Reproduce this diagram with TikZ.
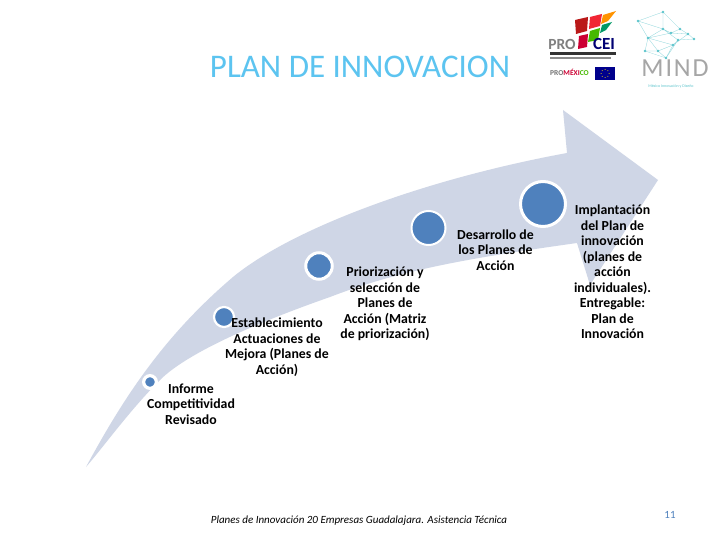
\documentclass[tikz,border=0pt]{standalone}
\usepackage{fontspec}
\setmainfont{Carlito}
\definecolor{arrowc}{HTML}{CFD6E6}
\definecolor{dotc}{HTML}{4F81BD}
\definecolor{titlec}{HTML}{5CC4F0}
\definecolor{mindc}{HTML}{5CC4CC}
\tikzset{
  stage/.style={circle,fill=dotc,draw=white,inner sep=0pt},
  lab/.style={align=center,font=\fontsize{13.8pt}{15.5pt}\selectfont\bfseries,text=black,inner sep=0pt},
  mdot/.style={circle,fill=mindc,inner sep=0pt,minimum size=2.6pt},
  mline/.style={mindc!70,line width=0.3pt}
}
\begin{document}
\begin{tikzpicture}[x=1pt,y=-1pt]
\useasboundingbox (0,0) rectangle (720,540);
\fill[white] (0,0) rectangle (720,540);
% arrow
\fill[arrowc] (86,467) .. controls (125,395) and (165,335) .. (233,277)
  .. controls (290,230) and (420,180) .. (567,153)
  -- (563,110) -- (658,180) -- (590,285) -- (577,243)
  .. controls (470,258) and (400,270) .. (330,297)
  .. controls (270,318) and (190,350) .. (160,380)
  .. controls (130,410) and (105,445) .. (86,467) -- cycle;
% stages
\node[stage,minimum size=12.7pt,line width=3.2pt] (s1) at (150,382) {};
\node[stage,minimum size=20pt,line width=2.2pt] (s2) at (224,317) {};
\node[stage,minimum size=26.5pt,line width=3pt] (s3) at (319,266) {};
\node[stage,minimum size=34pt,line width=2pt] (s4) at (428.5,228) {};
\node[stage,minimum size=45pt,line width=3pt] (s5) at (543,204) {};
% labels
\node[lab] (l1) at (191,404) {Informe\\Competitividad\\Revisado};
\node[lab] (l2) at (277,347) {Establecimiento\\Actuaciones de\\Mejora (Planes de\\Acción)};
\node[lab] (l3) at (385,304) {Priorización y\\selección de\\Planes de\\Acción (Matriz\\de priorización)};
\node[lab] (l4) at (495.5,250) {Desarrollo de\\los Planes de\\Acción};
\node[lab] (l5) at (612.5,272) {Implantación\\del Plan de\\innovación\\(planes de\\acción\\individuales).\\Entregable:\\Plan de\\Innovación};
% title and footer
\node[font=\fontsize{33pt}{35pt}\selectfont,text=titlec,inner sep=0pt] (title) at (360,67) {PLAN DE INNOVACION};
\node[font=\fontsize{11pt}{12pt}\selectfont\itshape,inner sep=0pt] (foot) at (359,521) {Planes de Innovación 20 Empresas Guadalajara. Asistencia Técnica};
\node[font=\fontsize{11pt}{12pt}\selectfont,text=dotc,inner sep=0pt] (page) at (670,515) {11};
% PRO CEI logo
\fill[red!70!black!90] (575,20) -- (588,17) -- (587,31) -- (576,34) -- cycle;
\fill[red!75!purple!85] (590,17) -- (602,14) -- (600,26) -- (589,29) -- cycle;
\fill[orange!85!yellow] (603,15) -- (616,11) -- (608,21) -- (601,24) -- cycle;
\fill[teal!80!green] (602,25) -- (612,22) -- (606,30) -- (600,33) -- cycle;
\fill[green!45!olive] (590,31) -- (600,28) -- (598,40) -- (588,42) -- cycle;
\fill[purple!80!red] (579,36) -- (588,34) -- (587,47) -- (578,49) -- cycle;
\node[font=\fontsize{15.5pt}{16pt}\selectfont\bfseries,text=black!50,inner sep=0pt] (pro) at (562,44) {PRO};
\node[font=\fontsize{17pt}{17pt}\selectfont\bfseries,text=blue!45!black,inner sep=0pt] (cei) at (604,44) {CEI};
\fill[black!80] (550,52) rectangle (616,55);
\fill[black!45] (550,57.2) rectangle (611,59);
\node[font=\fontsize{7.5pt}{8pt}\selectfont\bfseries,text=black!55,inner sep=0pt] (promx) at (569.5,72.5) {PRO\textcolor{purple!80!red}{MÉXI}\textcolor{green!45!olive}{CO}};
\fill[blue!55!black] (595,67) rectangle (615,80);
\foreach \a in {0,45,...,315} \fill[yellow!80!orange] (605,73.5)+(\a:4) circle (0.5);
% MIND logo
\coordinate (ma) at (663,12); \coordinate (mb) at (638,21); \coordinate (mc) at (663,29);
\coordinate (md) at (671,33); \coordinate (me) at (680,29); \coordinate (mf) at (688,34);
\coordinate (mg) at (694,39); \coordinate (mh) at (648,38); \coordinate (mi) at (673,45);
\coordinate (mj) at (658,51); \coordinate (mk) at (645,51); \coordinate (ml) at (666,58);
\coordinate (mm) at (678,40);
\draw[mline] (ma)--(mb)--(mc)--(ma)--(me)--(mf)--(mg)--(mm)--(mi)--(ml)--(mk)--(mh)--(mb);
\draw[mline] (mc)--(md)--(mf)--(mi)--(mj)--(mk) (mh)--(mc)--(mm)--(ml)--(mj)--(mh)--(md)--(me) (mh)--(mi);
\foreach \p in {ma,mb,mc,md,me,mf,mg,mh,mi,mj,mk,ml,mm} \node[mdot] at (\p) {};
\node[font=\fontsize{26pt}{26pt}\selectfont\addfontfeature{LetterSpace=7},text=black!35,inner sep=0pt] (mind) at (675,68) {MIND};
\node[font=\fontsize{4pt}{4pt}\selectfont,text=mindc,inner sep=0pt] (msub) at (671,86) {México Innovación y Diseño};
\end{tikzpicture}
\end{document}
